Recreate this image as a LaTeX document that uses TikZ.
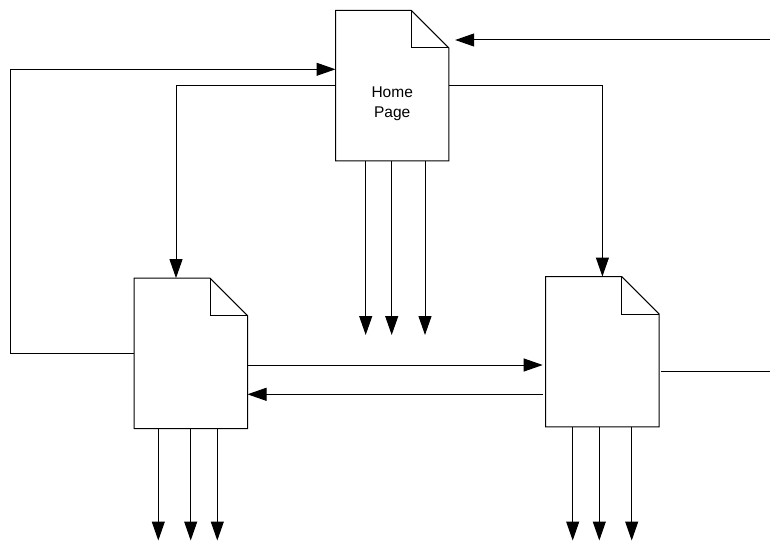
\documentclass[tikz,border=0pt]{standalone}
\usepackage{fontspec}
\setmainfont{Liberation Sans}
\usetikzlibrary{calc,arrows.meta}
\tikzset{
  docpage/.style={rectangle, draw=none, minimum width=113pt, minimum height=150pt, inner sep=0pt},
  docline/.style={line width=1pt, line join=miter},
  conn/.style={line width=1pt},
  arr/.style={conn, -{Triangle[length=19pt,width=13pt]}},
  lbl/.style={align=center, font=\fontsize{15.5}{20}\selectfont, inner sep=0pt}
}
\newcommand{\docoutline}[1]{%
  \draw[docline] (#1.south west) -- (#1.north west) -- ($(#1.north east)+(-37.5,0)$)
    -- ($(#1.north east)+(0,37.5)$) -- (#1.south east) -- cycle;
  \draw[docline] ($(#1.north east)+(-37.5,0)$) -- ($(#1.north east)+(-37.5,37.5)$) -- ($(#1.north east)+(0,37.5)$);
}
\begin{document}
\begin{tikzpicture}[x=1pt,y=-1pt]
\useasboundingbox (0,0) rectangle (770,543);
% pages
\node[docpage] (home) at (392.2,85.7) {};
\node[docpage] (left) at (190.8,353.3) {};
\node[docpage] (right) at (602.4,351.7) {};
\docoutline{home}
\docoutline{left}
\docoutline{right}
\node[lbl] (homelabel) at (392.2,104) {Home\\Page};
% helper coordinates
\coordinate (inR) at (770,40);
\coordinate (yA) at (0,69.3);
\coordinate (xL) at (176,0);
\coordinate (xO) at (10,0);
\coordinate (y365) at (0,365);
\coordinate (y394) at (0,394.3);
\coordinate (y372) at (0,371.7);
\coordinate (outR) at (770,371.7);
% connectors
\draw[arr] (inR) -- ($(home.north east |- inR)+(6.3,0)$);
\draw[arr] (left.west) -| (xO |- yA) -- (home.west |- yA);
\draw[arr] (home.east) -| (right.north);
\draw[arr] (home.west) -| (xL |- left.north);
\draw[arr] (left.east |- y365) -- ($(right.west |- y365)+(-3,0)$);
\draw[arr] ($(right.west |- y394)+(-2.7,0)$) -- (left.east |- y394);
\draw[conn] ($(right.east |- y372)+(2.3,0)$) -- (outR);
% bottom arrows
\foreach \x in {365.7,391.7,425} {\draw[arr] (home.south -| \x,0) -- (\x,335);}
\foreach \x in {158.3,190.7,217.3} {\draw[arr] (left.south -| \x,0) -- (\x,540.5);}
\foreach \x in {572.7,599.3,631.7} {\draw[arr] (right.south -| \x,0) -- (\x,540.5);}
\end{tikzpicture}
\end{document}
